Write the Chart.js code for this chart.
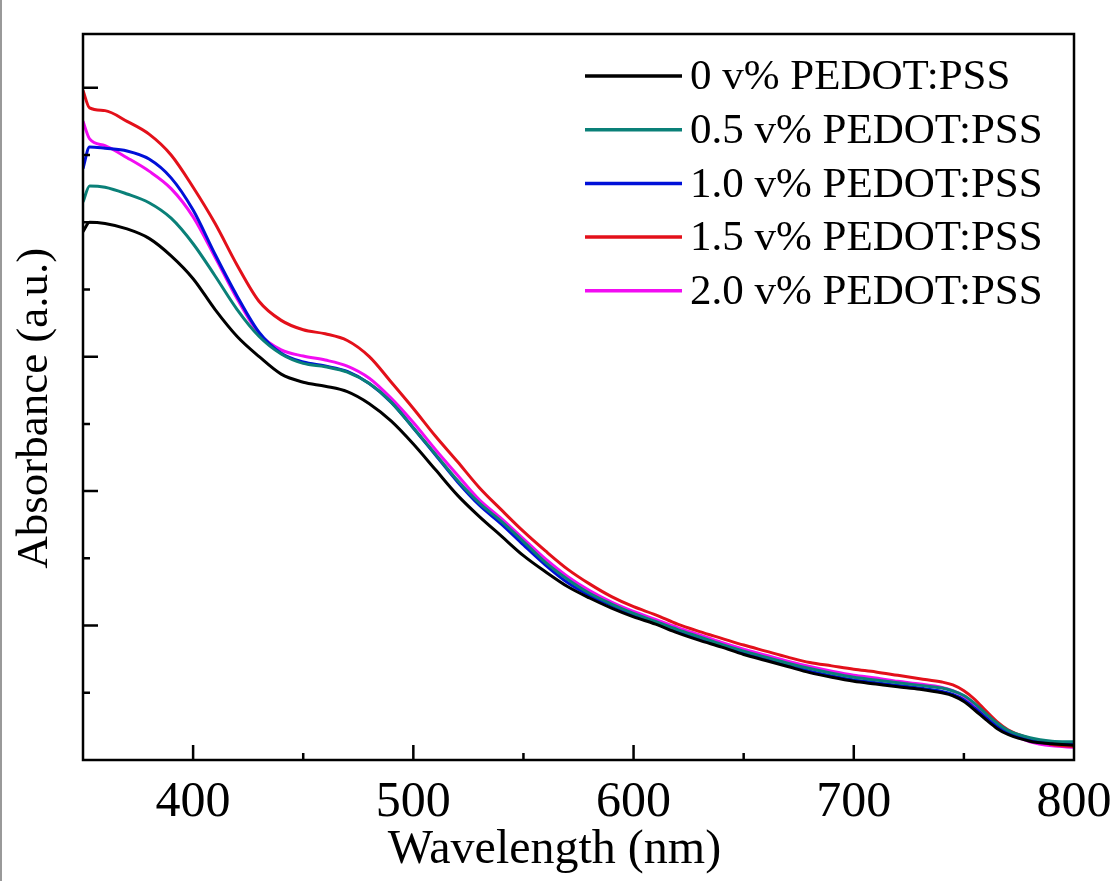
<!DOCTYPE html>
<html>
<head>
<meta charset="utf-8">
<title>Absorbance</title>
<script src="https://cdn.jsdelivr.net/npm/chart.js@4.4.1/dist/chart.umd.min.js"></script>
<style>
  body { margin: 0; background: #fff; }
  canvas { display: block; }
</style>
</head>
<body>
<canvas id="absChart" width="1112" height="881"></canvas>
<script>
// wavelength grid (nm) and absorbance (arbitrary units)
var wavelengths = [350, 353, 360, 370, 380, 390, 400, 410, 420, 430, 440, 450, 460, 470, 480, 490,
    500, 510, 520, 530, 540, 550, 560, 570, 580, 590, 600, 610, 620, 630, 640, 650, 660, 670, 680, 690,
    700, 710, 720, 730, 740, 745, 750, 755, 760, 765, 770, 780, 790, 800];

var abs0 = [3.93, 4.00, 3.99, 3.95, 3.88, 3.75, 3.58, 3.35, 3.15, 3.00, 2.87, 2.81, 2.78, 2.74, 2.65, 2.52,
    2.35, 2.16, 1.97, 1.81, 1.665, 1.52, 1.40, 1.29, 1.205, 1.13, 1.065, 1.01, 0.945, 0.89, 0.84, 0.785, 0.74, 0.695, 0.65, 0.615,
    0.585, 0.565, 0.545, 0.527, 0.50, 0.478, 0.435, 0.37, 0.30, 0.235, 0.19, 0.14, 0.12, 0.11];

var abs05 = [4.15, 4.27, 4.26, 4.21, 4.145, 4.03, 3.84, 3.60, 3.35, 3.15, 3.02, 2.95, 2.925, 2.885, 2.80, 2.66,
    2.47, 2.275, 2.08, 1.91, 1.775, 1.625, 1.47, 1.345, 1.24, 1.16, 1.09, 1.03, 0.97, 0.915, 0.86, 0.81, 0.765, 0.72, 0.68, 0.645,
    0.615, 0.595, 0.575, 0.555, 0.535, 0.513, 0.48, 0.42, 0.345, 0.275, 0.22, 0.165, 0.14, 0.135];

var abs10 = [4.40, 4.56, 4.55, 4.53, 4.47, 4.33, 4.09, 3.76, 3.45, 3.18, 3.025, 2.96, 2.93, 2.89, 2.80, 2.66,
    2.47, 2.27, 2.07, 1.895, 1.755, 1.60, 1.45, 1.32, 1.225, 1.15, 1.08, 1.02, 0.957, 0.90, 0.85, 0.795, 0.75, 0.705, 0.66, 0.625,
    0.595, 0.575, 0.555, 0.535, 0.51, 0.488, 0.448, 0.385, 0.315, 0.25, 0.205, 0.15, 0.13, 0.12];

var abs15 = [4.98, 4.85, 4.83, 4.75, 4.655, 4.50, 4.26, 3.99, 3.68, 3.41, 3.27, 3.20, 3.17, 3.12, 3.00, 2.81,
    2.615, 2.41, 2.22, 2.025, 1.86, 1.70, 1.555, 1.42, 1.31, 1.215, 1.14, 1.08, 1.01, 0.955, 0.905, 0.855, 0.81, 0.765, 0.725, 0.70,
    0.675, 0.655, 0.63, 0.605, 0.58, 0.558, 0.515, 0.45, 0.365, 0.285, 0.225, 0.16, 0.115, 0.10];

var abs20 = [4.75, 4.62, 4.57, 4.48, 4.38, 4.25, 4.04, 3.74, 3.43, 3.17, 3.05, 3.005, 2.975, 2.93, 2.84, 2.69,
    2.51, 2.31, 2.12, 1.935, 1.795, 1.645, 1.495, 1.365, 1.26, 1.175, 1.105, 1.045, 0.985, 0.93, 0.875, 0.825, 0.78, 0.735, 0.695, 0.66,
    0.63, 0.61, 0.585, 0.565, 0.54, 0.515, 0.475, 0.41, 0.33, 0.26, 0.205, 0.135, 0.105, 0.095];

var seriesLabels = ['0 v% PEDOT:PSS', '0.5 v% PEDOT:PSS', '1.0 v% PEDOT:PSS', '1.5 v% PEDOT:PSS', '2.0 v% PEDOT:PSS'];
var seriesValues = [abs0, abs05, abs10, abs15, abs20];
var seriesColors = ['#000000', '#0a8078', '#0010d8', '#e3101a', '#f20cf2'];

var xTickLabels = [400, 500, 600, 700, 800];

var serif = "'Liberation Serif', 'Times New Roman', serif";

function toPoints(values) {
    return wavelengths.map(function (w, i) { return { x: w, y: values[i] }; });
}

var datasets = seriesLabels.map(function (label, i) {
    return {
        label: label,
        data: toPoints(seriesValues[i]),
        borderColor: seriesColors[i],
        backgroundColor: seriesColors[i],
        borderWidth: 3,
        pointRadius: 0,
        cubicInterpolationMode: 'monotone',
        fill: false
    };
});

// box, inward ticks and the legend inside the plot
var framePlugin = {
    id: 'frame',
    beforeDraw: function (chart) {
        var ctx = chart.ctx;
        ctx.save();
        ctx.fillStyle = '#fff';
        ctx.fillRect(0, 0, chart.width, chart.height);
        ctx.strokeStyle = '#777';
        ctx.lineWidth = 1.5;
        ctx.beginPath();
        ctx.moveTo(1, 0);
        ctx.lineTo(1, chart.height);
        ctx.stroke();
        ctx.restore();
    },
    afterDatasetsDraw: function (chart) {
        var ctx = chart.ctx;
        var area = chart.chartArea;
        var xs = chart.scales.x;
        var ys = chart.scales.y;

        ctx.save();
        ctx.strokeStyle = '#000';
        ctx.lineWidth = 2.5;
        ctx.strokeRect(area.left, area.top, area.right - area.left, area.bottom - area.top);

        ctx.beginPath();
        xs.ticks.forEach(function (t) {
            if (t.value % 50 !== 0 || t.value === xs.min || t.value === xs.max) return;
            var len = t.value % 100 === 0 ? 15 : 7;
            var px = xs.getPixelForValue(t.value);
            ctx.moveTo(px, area.bottom);
            ctx.lineTo(px, area.bottom - len);
        });
        ys.ticks.forEach(function (t) {
            var v2 = t.value * 2;
            if (Math.abs(v2 - Math.round(v2)) > 1e-6 || t.value === ys.min) return;
            var len = Math.abs(t.value - Math.round(t.value)) < 1e-6 ? 15 : 7;
            var py = ys.getPixelForValue(t.value);
            ctx.moveTo(area.left, py);
            ctx.lineTo(area.left + len, py);
        });
        ctx.stroke();

        // legend
        var lx = 585, lw = 97, ly = 76, step = 53.7;
        ctx.font = '43px ' + serif;
        ctx.textBaseline = 'middle';
        ctx.textAlign = 'left';
        chart.data.datasets.forEach(function (ds, i) {
            var y = ly + i * step;
            ctx.strokeStyle = ds.borderColor;
            ctx.lineWidth = 3.5;
            ctx.beginPath();
            ctx.moveTo(lx, y);
            ctx.lineTo(lx + lw, y);
            ctx.stroke();
            ctx.fillStyle = '#000';
            ctx.fillText(ds.label, lx + lw + 8, y + 2);
        });
        ctx.restore();
    }
};

var ctxAbs = document.getElementById('absChart').getContext('2d');

var absChart = new Chart(ctxAbs, {
    type: 'line',
    data: { datasets: datasets },
    options: {
        responsive: false,
        animation: false,
        devicePixelRatio: 1,
        layout: { padding: { top: 34, right: 38, left: 0, bottom: 0 } },
        plugins: {
            legend: { display: false },
            tooltip: { enabled: false }
        },
        scales: {
            x: {
                type: 'linear',
                min: 350,
                max: 800,
                grid: { display: false, drawTicks: false },
                border: { display: false },
                ticks: {
                    stepSize: 50,
                    autoSkip: false,
                    maxRotation: 0,
                    padding: 13,
                    color: '#000',
                    font: { family: serif, size: 50 },
                    callback: function (value) {
                        return xTickLabels.indexOf(value) >= 0 ? String(value) : '';
                    }
                },
                title: {
                    display: true,
                    // trailing spaces nudge the centred title left, as in the figure
                    text: 'Wavelength (nm)    ',
                    color: '#000',
                    font: { family: serif, size: 48 },
                    padding: { top: 0, bottom: 2 }
                },
                afterFit: function (scale) {
                    scale.height = 121;
                    scale.paddingLeft = 0;
                    scale.paddingRight = 0;
                }
            },
            y: {
                type: 'linear',
                min: 0,
                max: 5.4,
                grid: { display: false, drawTicks: false },
                border: { display: false },
                ticks: { display: false, stepSize: 0.5 },
                title: {
                    display: true,
                    text: 'Absorbance (a.u.)  ',
                    color: '#000',
                    font: { family: serif, size: 45 },
                    padding: { top: 8, bottom: 0 }
                },
                afterFit: function (scale) {
                    scale.width = 83;
                    scale.paddingTop = 0;
                    scale.paddingBottom = 0;
                }
            }
        }
    },
    plugins: [framePlugin]
});
</script>
</body>
</html>
